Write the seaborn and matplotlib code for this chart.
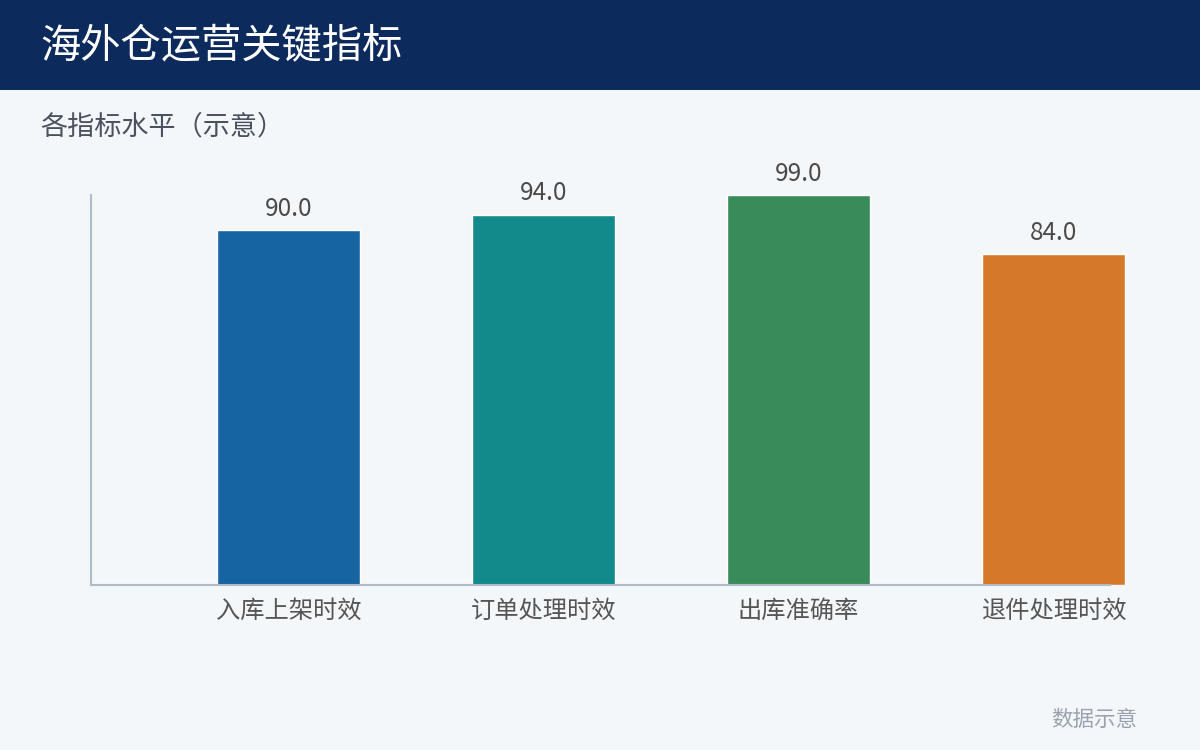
import matplotlib
matplotlib.use("Agg")
import matplotlib.pyplot as plt
import seaborn as sns
import pandas as pd
from matplotlib.patches import Rectangle

categories = ["入库上架时效", "订单处理时效", "出库准确率", "退件处理时效"]
values = [90.0, 94.0, 99.0, 84.0]
colors = ["#1764a3", "#128a8c", "#3a8b5a", "#d6782a"]

title = "海外仓运营关键指标"
subtitle = "各指标水平（示意）"
footer = "数据示意"

sns.set_theme(style="white")
plt.rcParams['font.family'] = ['Noto Sans CJK SC', 'DejaVu Sans']

bg = "#f4f7fa"
fig = plt.figure(figsize=(12, 7.5), dpi=100, facecolor=bg)
fig.patches.append(Rectangle((0, 1 - 90 / 750), 1, 90 / 750, transform=fig.transFigure,
                             facecolor="#0c2a5c", edgecolor="none", zorder=0))
fig.text(40 / 1200, 1 - 47 / 750, title, color="white", fontsize=29, va="center", ha="left")
fig.text(40 / 1200, 1 - 127 / 750, subtitle, color="#4a5260", fontsize=19.5, va="center", ha="left")
fig.text(1137 / 1200, 1 - 720 / 750, footer, color="#9aa3ad", fontsize=15.5, va="center", ha="right")

ax = fig.add_axes([91 / 1200, 165 / 750, (1160 - 91) / 1200, 390 / 750])
ax.set_facecolor(bg)

df = pd.DataFrame({"cat": categories, "val": values})
sns.barplot(data=df, x="cat", y="val", hue="cat", palette=colors, legend=False,
            width=0.56, saturation=1, ax=ax)

x0 = (91 - 288.5) / 255
x1 = (1160 - 288.5) / 255
ax.set_xlim(x0, x1)
ax.set_ylim(0, max(values))

for i, v in enumerate(values):
    ax.annotate(f"{v:.1f}", (i, v), xytext=(0, 6), textcoords="offset points",
                ha="center", va="bottom", fontsize=17.5, color="#4a4a4a", annotation_clip=False)

for s in ["top", "right"]:
    ax.spines[s].set_visible(False)
for s in ["left", "bottom"]:
    ax.spines[s].set_color("#b0bcc8")
    ax.spines[s].set_linewidth(1.5)
ax.spines["bottom"].set_bounds(x0, (1110 - 288.5) / 255)

ax.set_yticks([])
ax.set_xlabel("")
ax.set_ylabel("")
ax.tick_params(axis="x", length=0, pad=9, labelsize=17.5, labelcolor="#555555")

fig.savefig("out.png", dpi=100, facecolor=bg)
